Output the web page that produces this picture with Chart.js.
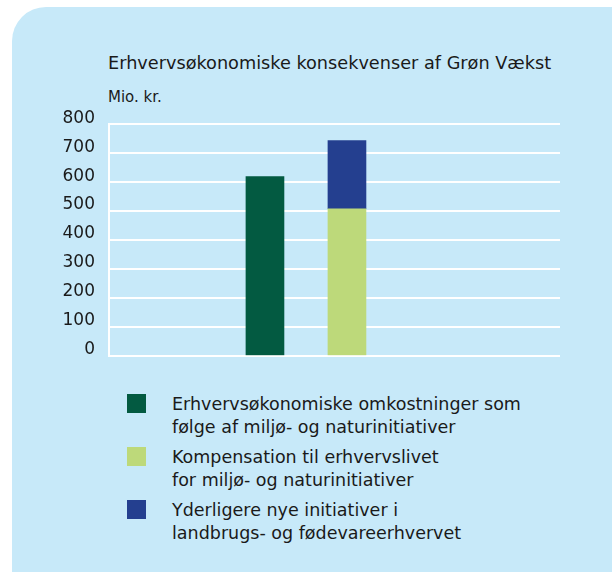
<!DOCTYPE html>
<html>
<head>
<meta charset="utf-8">
<script src="https://cdn.jsdelivr.net/npm/chart.js@4"></script>
<style>
  body { margin: 0; background: #fff; font-family: "DejaVu Sans", sans-serif; color: #1a1a1a; }
  .panel { position: absolute; left: 12px; top: 7px; right: 0; bottom: 0; background: #c7e9f9; border-top-left-radius: 34px; }
  .title { position: absolute; left: 108px; top: 53px; font-size: 17.7px; line-height: 21px; white-space: nowrap; }
  .unit { position: absolute; left: 108px; top: 88px; font-size: 15px; line-height: 18px; }
  .chart-box { position: absolute; left: 0; top: 100px; width: 612px; height: 280px; }
  .legend { position: absolute; left: 127px; top: 394px; }
  .legend-item { position: relative; height: 53px; }
  .legend-item .swatch { position: absolute; left: 0; top: 0; width: 19px; height: 19px; }
  .legend-item .label { position: absolute; left: 45px; top: -1px; font-size: 17.5px; line-height: 22.5px; white-space: nowrap; }
</style>
</head>
<body>
<div class="panel"></div>
<div class="title">Erhvervsøkonomiske konsekvenser af Grøn Vækst</div>
<div class="unit">Mio. kr.</div>
<div class="chart-box"><canvas id="chart"></canvas></div>
<div class="legend" id="legend"></div>
<script>
// bar slots: 1 = omkostninger, 2 = kompensation + nye initiativer
const categories = [1, 2];
const omkostninger = [619, null];
const kompensation = [null, 508];
const nyeInitiativer = [null, 235];
const yTicks = [0, 100, 200, 300, 400, 500, 600, 700, 800];

const seriesNames = [
    ["Erhvervsøkonomiske omkostninger som", "følge af miljø- og naturinitiativer"],
    ["Kompensation til erhvervslivet", "for miljø- og naturinitiativer"],
    ["Yderligere nye initiativer i", "landbrugs- og fødevareerhvervet"]
];
const colors = ["#035a41", "#bdd97a", "#243f8f"];

const toPoints = arr => categories.map((c, i) => ({ x: c, y: arr[i] }));

const datasets = [omkostninger, kompensation, nyeInitiativer].map((arr, i) => ({
    label: seriesNames[i].join(" "),
    data: toPoints(arr),
    backgroundColor: colors[i],
    barThickness: 38,
    borderWidth: 0
}));

new Chart(document.getElementById("chart"), {
    type: "bar",
    data: { datasets: datasets },
    options: {
        responsive: true,
        maintainAspectRatio: false,
        animation: false,
        layout: { padding: { top: 21, right: 52, bottom: 20, left: 0 } },
        plugins: { legend: { display: false }, tooltip: { enabled: false } },
        scales: {
            x: {
                type: "linear",
                stacked: true,
                offset: false,
                min: -0.902,
                max: 4.598,
                display: false
            },
            y: {
                stacked: true,
                min: 0,
                max: 800,
                afterBuildTicks: scale => { scale.ticks = yTicks.map(v => ({ value: v })); },
                afterFit: scale => { scale.width = 109; },
                ticks: {
                    padding: 14,
                    labelOffset: -6,
                    color: "#1a1a1a",
                    font: { family: "DejaVu Sans", size: 17 }
                },
                grid: { color: "#ffffff", lineWidth: 2, drawTicks: false },
                border: { color: "#ffffff", width: 2 }
            }
        }
    }
});

// legend built from the same series
const legend = document.getElementById("legend");
seriesNames.forEach((lines, i) => {
    const item = document.createElement("div");
    item.className = "legend-item";
    item.innerHTML = '<div class="swatch" style="background:' + colors[i] + '"></div>' +
        '<div class="label">' + lines.join("<br>") + '</div>';
    legend.appendChild(item);
});
</script>
</body>
</html>
